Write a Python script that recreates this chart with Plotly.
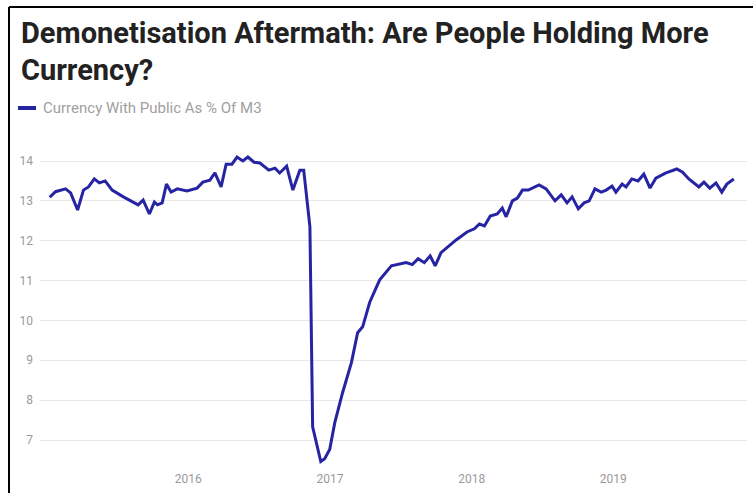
import plotly.graph_objects as go

# Fortnightly readings of currency with the public as a share of M3 (%)
dates = [
    "2015-01-09", "2015-01-24", "2015-02-19", "2015-03-04", "2015-03-22", "2015-04-06",
    "2015-04-19", "2015-05-04", "2015-05-17", "2015-06-01", "2015-06-19", "2015-07-18",
    "2015-08-25", "2015-09-07", "2015-09-23", "2015-10-06", "2015-10-14", "2015-10-26",
    "2015-11-06", "2015-11-18", "2015-12-04", "2015-12-29", "2016-01-24", "2016-02-08",
    "2016-02-26", "2016-03-10", "2016-03-26", "2016-04-08", "2016-04-23", "2016-05-06",
    "2016-05-21", "2016-06-03", "2016-06-19", "2016-07-04", "2016-07-27", "2016-08-12",
    "2016-08-24", "2016-09-11", "2016-09-27", "2016-10-15", "2016-10-25", "2016-11-10",
    "2016-11-17", "2016-12-08", "2016-12-18", "2016-12-31", "2017-01-13", "2017-02-02",
    "2017-02-25", "2017-03-13", "2017-03-26", "2017-03-31", "2017-04-13", "2017-05-01",
    "2017-05-09", "2017-06-08", "2017-07-16", "2017-08-01", "2017-08-16", "2017-09-01",
    "2017-09-16", "2017-09-29", "2017-10-14", "2017-11-22", "2017-12-20", "2018-01-08",
    "2018-01-21", "2018-02-03", "2018-02-18", "2018-03-08", "2018-03-21", "2018-03-31",
    "2018-04-16", "2018-04-29", "2018-05-12", "2018-05-27", "2018-06-24", "2018-07-12",
    "2018-08-04", "2018-08-20", "2018-09-04", "2018-09-17", "2018-10-03", "2018-10-18",
    "2018-10-31", "2018-11-15", "2018-12-01", "2018-12-14", "2018-12-29", "2019-01-08",
    "2019-01-24", "2019-02-03", "2019-02-18", "2019-03-06", "2019-03-21", "2019-04-06",
    "2019-04-21", "2019-05-17", "2019-06-14", "2019-06-29", "2019-07-15", "2019-08-10",
    "2019-08-23", "2019-09-07", "2019-09-23", "2019-10-08", "2019-10-21", "2019-11-08",
]
currency_share = [
    13.09, 13.23, 13.30, 13.20, 12.77, 13.27,
    13.35, 13.55, 13.45, 13.50, 13.27, 13.10,
    12.90, 13.02, 12.67, 12.97, 12.90, 12.95,
    13.42, 13.22, 13.30, 13.25, 13.32, 13.47,
    13.52, 13.70, 13.35, 13.92, 13.92, 14.10,
    14.00, 14.10, 13.97, 13.95, 13.77, 13.82,
    13.70, 13.87, 13.27, 13.77, 13.77, 12.35,
    7.33, 6.46, 6.53, 6.76, 7.43, 8.18,
    8.94, 9.69, 9.84, 10.00, 10.45, 10.85,
    11.02, 11.37, 11.45, 11.40, 11.55, 11.45,
    11.62, 11.37, 11.70, 12.02, 12.22, 12.30,
    12.42, 12.37, 12.62, 12.67, 12.82, 12.60,
    13.00, 13.07, 13.27, 13.27, 13.40, 13.30,
    13.00, 13.15, 12.95, 13.10, 12.80, 12.95,
    13.00, 13.30, 13.22, 13.27, 13.37, 13.22,
    13.42, 13.35, 13.55, 13.50, 13.67, 13.32,
    13.57, 13.70, 13.80, 13.72, 13.55, 13.35,
    13.47, 13.32, 13.45, 13.22, 13.42, 13.55,
]

year_ticks = ["2016-01-01", "2017-01-01", "2018-01-01", "2019-01-01"]
year_labels = ["2016", "2017", "2018", "2019"]
value_ticks = [7, 8, 9, 10, 11, 12, 13, 14]

title_lines = ["Demonetisation Aftermath: Are People Holding More", "Currency?"]
series_name = "Currency With Public As % Of M3"

LINE_COLOR = "#2624a3"
W, H = 753, 493
M_L, M_R, M_T, M_B = 40, 6, 150, 28
plot_w = W - M_L - M_R
plot_h = H - M_T - M_B


def px_x(px):
    """Convert a page x pixel into paper coordinates."""
    return (px - M_L) / plot_w


def px_y(py):
    """Convert a page y pixel into paper coordinates."""
    return (H - M_B - py) / plot_h


fig = go.Figure()
fig.add_trace(go.Scatter(
    x=dates, y=currency_share, mode="lines", name=series_name,
    line=dict(color=LINE_COLOR, width=3), showlegend=False,
))

fig.update_layout(
    width=W, height=H,
    margin=dict(l=M_L, r=M_R, t=M_T, b=M_B),
    paper_bgcolor="white", plot_bgcolor="white",
    font=dict(family="Roboto", color="#999999"),
    xaxis=dict(
        type="date", range=["2014-12-15", "2019-12-12"],
        tickvals=year_ticks, ticktext=year_labels,
        showgrid=False, zeroline=False, showline=False, ticks="",
        ticklabelstandoff=5,
        tickfont=dict(size=12, color="#9a9a9a"),
    ),
    yaxis=dict(
        range=[6.373, 14.276], tickvals=value_ticks,
        showgrid=True, gridcolor="#e8e8e8", gridwidth=1,
        zeroline=False, showline=False, ticks="",
        ticklabelstandoff=6,
        tickfont=dict(size=12, color="#9a9a9a"),
    ),
)

# Two-line headline
for i, line in enumerate(title_lines):
    fig.add_annotation(
        text=f"<b>{line}</b>", xref="paper", yref="paper",
        x=px_x(19), y=px_y(33 + 37 * i), xanchor="left", yanchor="middle",
        showarrow=False, font=dict(family="Roboto", size=29, color="#222222"),
    )

# Legend key: short swatch plus label
fig.add_shape(type="line", xref="paper", yref="paper",
              x0=px_x(18), x1=px_x(36), y0=px_y(108), y1=px_y(108),
              line=dict(color=LINE_COLOR, width=4))
fig.add_annotation(text=series_name, xref="paper", yref="paper",
                   x=px_x(41), y=px_y(108), xanchor="left", yanchor="middle",
                   showarrow=False, font=dict(size=15, color="#a0a0a0"))

# Frame edges along the top and left of the card
fig.add_shape(type="line", xref="paper", yref="paper",
              x0=px_x(9), x1=px_x(760), y0=px_y(7), y1=px_y(7),
              line=dict(color="black", width=2))
fig.add_shape(type="line", xref="paper", yref="paper",
              x0=px_x(9), x1=px_x(9), y0=px_y(7), y1=px_y(500),
              line=dict(color="black", width=2))

fig.write_html("out.html")
